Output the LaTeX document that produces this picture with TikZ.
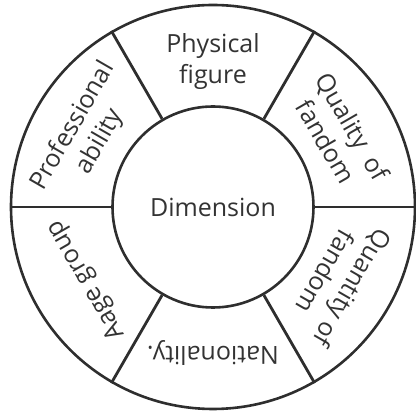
\documentclass[tikz,border=0pt]{standalone}
\usepackage{fontspec}
\setmainfont{Open Sans}
\definecolor{ink}{HTML}{2E2E2E}
\definecolor{txt}{HTML}{333333}
\begin{document}
\begin{tikzpicture}[x=1pt,y=1pt,
  ring/.style={draw=ink,line width=2.6pt},
  divider/.style={draw=ink,line width=2.8pt},
  lab/.style={text=txt,font=\fontsize{25}{31}\selectfont,align=center,inner sep=0pt}]
\useasboundingbox (-213,-207) rectangle (203,207);
\node[circle,minimum size=404pt,inner sep=0pt,ring] (outer) at (0,0) {};
\node[circle,minimum size=201pt,inner sep=0pt,ring] (inner) at (0,0) {};
\foreach \a in {0,60,120,180,240,300}
  \draw[divider] (inner.\a) -- (outer.\a);
\node[lab] (dim) at (0,0) {Dimension};
\node[lab,rotate=0] (phys) at (90:145) {Physical\\figure};
\node[lab,rotate=-60] (qual) at (30:146) {Quality\hspace{0.5em}of\\fandom};
\node[lab,rotate=-120] (quan) at (-30:146) {Quantity of\\fandom};
\node[lab,rotate=180] (nat) at (-90:146) {Nationality.};
\node[lab,rotate=120] (age) at (-150:146) {Aage group};
\node[lab,rotate=60] (prof) at (150:146) {Professional\\ability};
\end{tikzpicture}
\end{document}
